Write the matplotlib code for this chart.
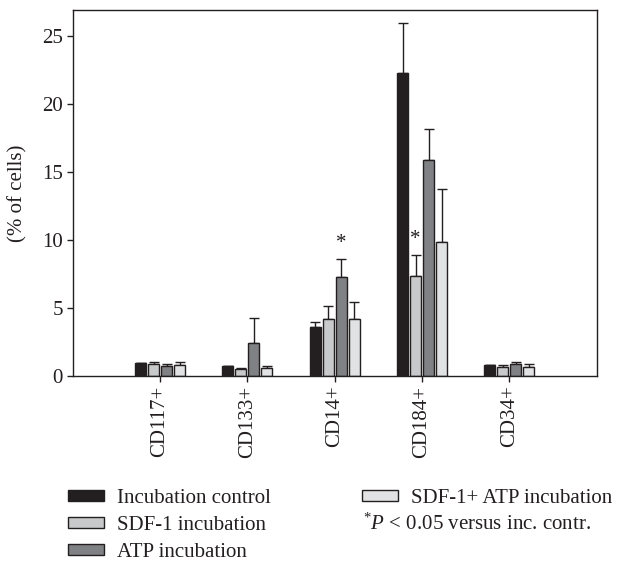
import matplotlib
matplotlib.use("Agg")
import matplotlib.pyplot as plt
from matplotlib.patches import Patch
import numpy as np

categories = ["CD117+", "CD133+", "CD14+", "CD184+", "CD34+"]
series = ["Incubation control", "SDF-1 incubation", "ATP incubation", "SDF-1+ ATP incubation"]
incubation_control = [0.97, 0.76, 3.58, 22.29, 0.79]
incubation_control_err = [0.0, 0.0, 0.42, 3.71, 0.0]
sdf1 = [0.86, 0.54, 4.17, 7.34, 0.69]
sdf1_err = [0.14, 0.07, 0.96, 1.59, 0.10]
atp = [0.72, 2.45, 7.31, 15.90, 0.86]
atp_err = [0.18, 1.80, 1.28, 2.27, 0.19]
sdf1_atp = [0.82, 0.57, 4.22, 9.87, 0.69]
sdf1_atp_err = [0.18, 0.18, 1.23, 3.92, 0.19]
# significance markers: (category index, series index)
significant = [(2, 2), (3, 1)]
yticks = [0, 5, 10, 15, 20, 25]

colors = ["#231f20", "#c8c9ca", "#808184", "#e1e2e3"]
edge = "#231f20"
FONT = "Liberation Serif"
plt.rcParams["font.family"] = [FONT, "DejaVu Serif"]
plt.rcParams["mathtext.fontset"] = "custom"
plt.rcParams["mathtext.rm"] = FONT
plt.rcParams["mathtext.it"] = FONT + ":italic"
FS = 15

fig = plt.figure(figsize=(6.22, 5.61), dpi=100)
ax = fig.add_axes([72.7 / 622, 1 - 376 / 561, (596.7 - 72.7) / 622, 366 / 561])

vals = [incubation_control, sdf1, atp, sdf1_atp]
errs = [incubation_control_err, sdf1_err, atp_err, sdf1_atp_err]
x = np.arange(1, len(categories) + 1)
step = 0.149
width = 0.125
offsets = (np.arange(4) - 1.5) * step
for i in range(4):
    xs = x + offsets[i]
    ax.bar(xs, vals[i], width, color=colors[i], edgecolor=edge, linewidth=1.0, zorder=2)
    ax.errorbar(xs, vals[i], yerr=[np.zeros(len(x)), errs[i]], fmt="none",
                ecolor=edge, elinewidth=1.0, capsize=3.3, capthick=1.0, zorder=1)

for ci, si in significant:
    top = vals[si][ci] + errs[si][ci]
    ax.text(x[ci] + offsets[si], top + 0.45, "*", ha="center", va="bottom",
            fontsize=FS, color=edge)

ax.set_xlim(0, 6)
ax.set_ylim(0, 26.95)
ax.set_xticks(x)
ax.set_xticklabels(categories, rotation=90, fontsize=FS, color=edge)
ax.set_yticks(yticks)
ax.set_yticklabels([str(t) for t in yticks], fontsize=FS, color=edge)
ax.tick_params(direction="out", length=4, width=1, color=edge, pad=3)
for s in ax.spines.values():
    s.set_color(edge)
    s.set_linewidth(1.0)
ax.set_ylabel("(% of cells)", fontsize=FS, color=edge)
ax.yaxis.set_label_coords(-(72.7 - 27) / 524, 1 - (193 - 10) / 366)

handles = [Patch(facecolor=colors[i], edgecolor=edge, linewidth=1.0) for i in range(4)]
common = dict(loc="upper left", frameon=False, fontsize=FS, handlelength=1.75,
              handleheight=0.38, handletextpad=0.6, labelspacing=0.38,
              borderpad=0, borderaxespad=0)
leg1 = fig.legend(handles[:3], series[:3], bbox_to_anchor=(68 / 622, 1 - 489 / 561), **common)
for t in leg1.get_texts():
    t.set_color(edge)
leg2 = fig.legend(handles[3:], series[3:], bbox_to_anchor=(362 / 622, 1 - 489 / 561), **common)
for t in leg2.get_texts():
    t.set_color(edge)
fig.text(363 / 622, 1 - 524 / 561, r"$^{*}\mathit{P}$ < 0.05 versus inc. contr.",
         fontsize=FS, color=edge, ha="left", va="center")

fig.savefig("out.png", dpi=100)
